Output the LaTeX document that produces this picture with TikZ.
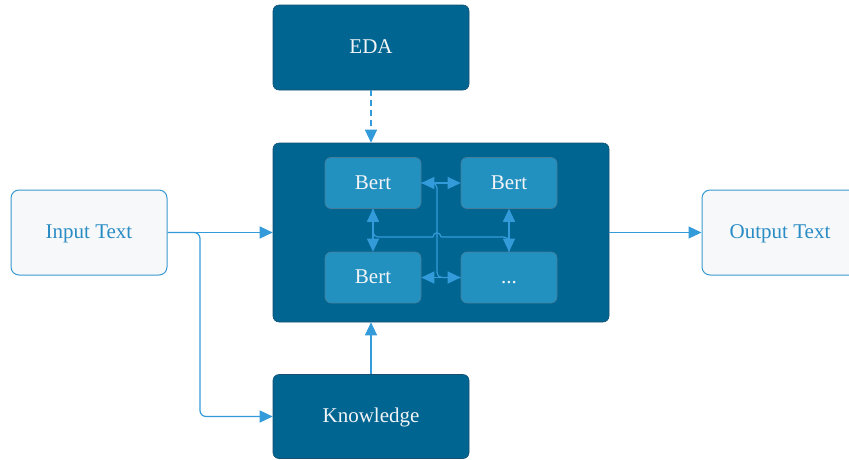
\documentclass[tikz,border=0pt]{standalone}
\usepackage{fontspec}
\setmainfont{Liberation Serif}
\usetikzlibrary{arrows.meta}

\definecolor{deepblue}{RGB}{0,101,145}
\definecolor{deepedge}{RGB}{20,80,115}
\definecolor{bertfill}{RGB}{35,145,192}
\definecolor{bertedge}{RGB}{70,125,155}
\definecolor{lightfill}{RGB}{246,248,250}
\definecolor{lightedge}{RGB}{58,154,208}
\definecolor{lighttext}{RGB}{42,140,196}
\definecolor{linkblue}{RGB}{52,155,218}
\definecolor{whitetext}{RGB}{242,244,246}

\tikzset{
  boxtext/.style={font=\fontsize{21}{25}\selectfont, text height=16pt, text depth=4pt},
  darkbox/.style={draw=deepedge, line width=0.6pt, fill=deepblue, rounded corners=6pt,
    text=whitetext, inner sep=0pt, boxtext},
  bertbox/.style={draw=bertedge, line width=0.6pt, fill=bertfill, rounded corners=6pt,
    minimum width=96pt, minimum height=51pt, text=whitetext, inner sep=0pt, boxtext},
  lightbox/.style={draw=lightedge, line width=1pt, fill=lightfill, rounded corners=8pt,
    minimum width=156pt, minimum height=85pt, text=lighttext, inner sep=0pt, boxtext},
  conn/.style={draw=linkblue, line width=1.2pt},
  tip/.style={-{Triangle[length=13pt,width=12pt]}},
  dtip/.style={{Triangle[length=13pt,width=12pt]}-{Triangle[length=13pt,width=12pt]}},
}

\begin{document}
\begin{tikzpicture}[x=1pt,y=-1pt]
  \useasboundingbox (0,0) rectangle (849,459);
  \begin{scope}
    \clip (0,0) rectangle (849,459);

    % outer blocks
    \node[darkbox, minimum width=196pt, minimum height=85pt] (eda) at (371,47.5) {EDA};
    \node[darkbox, minimum width=336pt, minimum height=179pt] (core) at (441,232.5) {};
    \node[darkbox, minimum width=196pt, minimum height=84pt] (know) at (371,416.5) {Knowledge};
    \node[lightbox] (input) at (89,232.5) {Input Text};
    \node[lightbox] (output) at (780,232.5) {Output Text};

    % encoder blocks inside the core
    \node[bertbox] (b1) at (373,183) {Bert};
    \node[bertbox] (b2) at (509,183) {Bert};
    \node[bertbox] (b3) at (373,277.5) {Bert};
    \node[bertbox] (b4) at (509,277.5) {...};

    % links between the encoder blocks
    \draw[conn, rounded corners=5pt] (b1.east) -- (437,183) -- (437,277.5) -- (b4.west);
    \draw[conn, rounded corners=5pt] (b1.south) -- (373,237) -- (433,237);
    \draw[conn] (433,237) .. controls (433,231.5) and (441,231.5) .. (441,237);
    \draw[conn, rounded corners=5pt] (441,237) -- (509,237) -- (b4.north);
    \draw[conn, dtip] (b1.east) -- (b2.west);
    \draw[conn, dtip] (b3.east) -- (b4.west);
    \draw[conn, dtip] (b1.south) -- (b3.north);
    \draw[conn, dtip] (b2.south) -- (b4.north);

    % data flow around the core
    \draw[conn, tip, dashed, dash pattern=on 6pt off 4pt] (eda.south) -- (eda.south |- core.north);
    \draw[conn, tip] (input.east) -- (core.west |- input.east);
    \draw[conn, tip, rounded corners=6pt] (input.east) -- (200,232.5) -- (200,416.5) -- (know.west);
    \draw[conn, tip] (know.north) -- (know.north |- core.south);
    \draw[conn, tip] (core.east |- output.west) -- (output.west);
  \end{scope}
\end{tikzpicture}
\end{document}
